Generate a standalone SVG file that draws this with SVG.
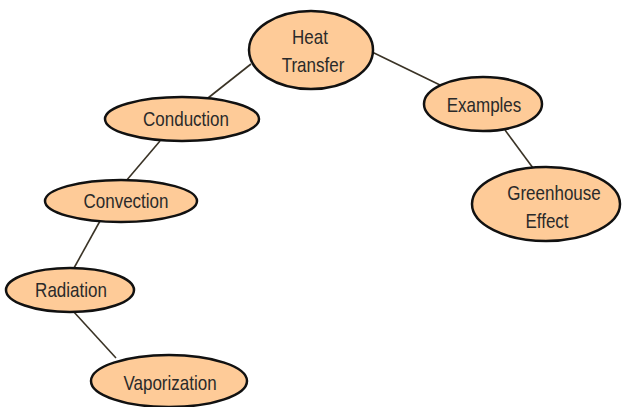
<svg xmlns="http://www.w3.org/2000/svg" width="622" height="407" viewBox="0 0 622 407">
<style>
.n ellipse{fill:#fecb98;stroke:#111;stroke-width:2.5}
.n text{font-family:"Liberation Sans",Arial,sans-serif;font-size:20px;fill:#2a2a2a;text-anchor:middle}
#edges line{stroke:#3a3326;stroke-width:1.6}
</style>
<rect width="622" height="407" fill="#fff"/>
<g id="edges">
<line x1="251" y1="64" x2="208" y2="98"/>
<line x1="372" y1="52" x2="440" y2="85"/>
<line x1="160" y1="141" x2="126" y2="181"/>
<line x1="100" y1="221" x2="74" y2="268"/>
<line x1="73" y1="311" x2="116" y2="358"/>
<line x1="505" y1="130" x2="533" y2="168"/>
</g>
<g id="heat" class="n"><ellipse cx="311" cy="50" rx="62" ry="39"/><text transform="translate(310,44) scale(0.85,1)">Heat</text><text transform="translate(313,72) scale(0.85,1)">Transfer</text></g>
<g id="conduction" class="n"><ellipse cx="182" cy="119" rx="77" ry="22"/><text transform="translate(186,126) scale(0.85,1)">Conduction</text></g>
<g id="convection" class="n"><ellipse cx="121" cy="201" rx="76" ry="21"/><text transform="translate(126,208) scale(0.85,1)">Convection</text></g>
<g id="radiation" class="n"><ellipse cx="70" cy="290" rx="64" ry="22"/><text transform="translate(71,297) scale(0.85,1)">Radiation</text></g>
<g id="vaporization" class="n"><ellipse cx="169" cy="381" rx="78" ry="26"/><text transform="translate(170,390) scale(0.85,1)">Vaporization</text></g>
<g id="examples" class="n"><ellipse cx="483" cy="104" rx="59" ry="27"/><text transform="translate(484,112) scale(0.85,1)">Examples</text></g>
<g id="greenhouse" class="n"><ellipse cx="546" cy="204" rx="74" ry="37"/><text transform="translate(554,200) scale(0.85,1)">Greenhouse</text><text transform="translate(547,228) scale(0.85,1)">Effect</text></g>
</svg>
